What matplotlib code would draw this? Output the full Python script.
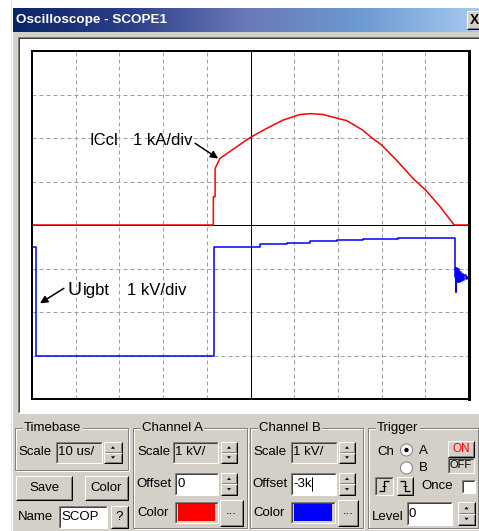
import numpy as np
import matplotlib.pyplot as plt
from matplotlib.patches import Rectangle, Circle, Polygon
from matplotlib.colors import LinearSegmentedColormap

W, H = 479, 531
DPI = 100
PX = 72 / DPI          # one screen pixel in points
GRAY = '#d4d0c8'
DARK = '#808080'
FONT = ['Liberation Sans', 'DejaVu Sans']
UI_SIZE = 9.5

# --- scope settings -------------------------------------------------------
time_per_div = 10.0     # us/div
ch_a_offset = 0.0       # kA (ICcl)
ch_b_offset = -3.0      # kV (Uigbt)

# --- traces ---------------------------------------------------------------
red_t = [0, 41.5, 41.5, 41.9, 41.9, 43.0, 49.9, 53.7, 57.4, 61.3, 63.8, 66.6,
         70.0, 72.0, 75.7, 77.7, 80.0, 83.4, 87.2, 90.1, 93.4, 96.6, 100]
red_ka = [0, 0, 0.65, 0.65, 1.30, 1.53, 2.01, 2.22, 2.41, 2.54, 2.56, 2.54,
          2.45, 2.40, 2.18, 2.01, 1.84, 1.49, 1.07, 0.80, 0.42, 0, 0]

blue_t = [0, 0.95, 41.6, 52.2, 58.3, 63.6, 69.7, 75.8, 83.8, 96.8, 96.95,
          97.1, 97.3, 97.5, 97.7, 97.9, 98.1, 98.3, 98.6, 98.9, 99.2, 99.5,
          99.8, 100]
blue_kv = [2.50, 0.0, 2.50, 2.56, 2.59, 2.63, 2.65, 2.67, 2.69, 1.80, 1.47,
           2.02, 1.68, 1.98, 1.70, 1.92, 1.72, 1.88, 1.74, 1.84, 1.76, 1.81,
           1.78, 1.78]

fig = plt.figure(figsize=(W / DPI, H / DPI), dpi=DPI)
ui = fig.add_axes([0, 0, 1, 1])
ui.set_xlim(0, W)
ui.set_ylim(H, 0)
ui.axis('off')


def line(xs, ys, c, lw=1):
    ui.plot(xs, ys, color=c, lw=lw * PX, solid_capstyle='butt')


def raised(x0, y0, x1, y1, face=GRAY):
    ui.add_patch(Rectangle((x0, y0), x1 - x0, y1 - y0, fc=face, ec='none'))
    line([x0, x0, x1], [y1, y0, y0], 'white')
    line([x0, x1, x1], [y1, y1, y0], 'black')
    line([x0 + 1, x1 - 1, x1 - 1], [y1 - 1, y1 - 1, y0 + 1], DARK)


def sunken(x0, y0, x1, y1, face='white'):
    ui.add_patch(Rectangle((x0, y0), x1 - x0, y1 - y0, fc=face, ec='none'))
    line([x0, x0, x1], [y1, y0, y0], DARK)
    line([x0 + 1, x0 + 1, x1 - 1], [y1 - 1, y0 + 1, y0 + 1], '#404040')
    line([x0, x1, x1], [y1, y1, y0], 'white')


def spin(x0, y0, x1, y1):
    ym = (y0 + y1) / 2
    raised(x0, y0, x1, ym)
    raised(x0, ym, x1, y1)
    cx = (x0 + x1) / 2
    a = (y0 + ym) / 2
    b = (ym + y1) / 2
    ui.add_patch(Polygon([[cx - 2, a + 1.5], [cx + 2, a + 1.5], [cx, a - 1]], fc='black', ec='none'))
    ui.add_patch(Polygon([[cx - 2, b - 1.5], [cx + 2, b - 1.5], [cx, b + 1]], fc='black', ec='none'))


def group(x0, y0, x1, y1, label):
    ui.add_patch(Rectangle((x0 + 1, y0 + 1), x1 - x0, y1 - y0, fc='none', ec='white', lw=PX))
    ui.add_patch(Rectangle((x0, y0), x1 - x0, y1 - y0, fc='none', ec=DARK, lw=PX))
    ui.text(x0 + 9, y0, label, fontsize=UI_SIZE, family=FONT, va='center', ha='left',
            bbox=dict(fc=GRAY, ec='none', pad=1))


def label(x, y, s, ha='left', size=UI_SIZE, **kw):
    ui.text(x, y, s, fontsize=size, family=FONT, va='center', ha=ha, **kw)


# window body and title bar
ui.add_patch(Rectangle((13, 8), W - 13, H - 8, fc=GRAY, ec='none'))
line([11, 11], [0, H], '#e0e0e0')
grad = LinearSegmentedColormap.from_list('title', ['#0a246a', '#2c3f88', '#6a78b8', '#6c9ad2', '#a6caf0'])
ui.imshow(np.linspace(0, 1, 256)[None, :], cmap=grad, aspect='auto',
          extent=(13, W, 32, 8), zorder=1)
ui.text(16, 20.5, 'Oscilloscope - SCOPE1', color='white', fontsize=9.7,
        family=FONT, weight='bold', va='center', zorder=3)
raised(467, 11, 484, 29)
ui.text(470, 20.5, 'X', fontsize=10, family=FONT, weight='bold', va='center', zorder=3)

# white scope panel
sunken(18, 37, 484, 413, face='white')

# timebase
group(15, 428, 128, 470, 'Timebase')
label(18, 452, 'Scale')
sunken(56, 442, 102, 463, face=GRAY)
label(58, 452, '10 us/')
spin(104, 442, 122, 463)
raised(16, 476, 72, 500)
label(44, 488, 'Save', ha='center')
raised(85, 476, 128, 500)
label(106.5, 488, 'Color', ha='center')
label(18, 517, 'Name')
sunken(59, 506, 107, 528)
label(61, 517, 'SCOP')
raised(111, 506, 128, 528)
label(119.5, 517, '?', ha='center')

# channel A
group(133, 428, 247, 528, 'Channel A')
label(137, 452, 'Scale')
sunken(173, 442, 218, 463, face=GRAY)
label(175, 452, '1 kV/')
spin(221, 442, 237, 463)
label(136, 484, 'Offset')
sunken(175, 473, 218, 495)
label(178, 484, '0')
spin(221, 473, 237, 495)
label(137, 513, 'Color')
sunken(175, 502, 218, 523, face=GRAY)
ui.add_patch(Rectangle((178, 504), 37, 17, fc='#ff0000', ec='none'))
raised(220, 500, 243, 526)
label(231.5, 511, '...', ha='center')

# channel B
group(250, 428, 363, 528, 'Channel B')
label(253, 452, 'Scale')
sunken(291, 442, 337, 463, face=GRAY)
label(293, 452, '1 kV/')
spin(339, 442, 355, 463)
label(252, 484, 'Offset')
sunken(291, 473, 336, 495)
label(293, 484, '-3k')
line([312, 312], [477, 491], 'black')
spin(339, 473, 355, 495)
label(253, 513, 'Color')
sunken(291, 502, 335, 523, face=GRAY)
ui.add_patch(Rectangle((294, 504), 38, 17, fc='#0000ff', ec='none'))
raised(338, 500, 358, 526)
label(348, 511, '...', ha='center')

# trigger
group(368, 428, 478, 528, 'Trigger')
label(377, 452, 'Ch')
for cy, on in [(450, True), (468, False)]:
    ui.add_patch(Circle((406.5, cy), 6, fc='white', ec=DARK, lw=PX))
    if on:
        ui.add_patch(Circle((406.5, cy), 2.2, fc='black', ec='none'))
label(419, 451, 'A')
label(419, 468, 'B')
raised(448, 441, 474, 457)
label(461, 449, 'ON', ha='center', size=8.5, color='#ff0000')
sunken(448, 458, 474, 473, face=GRAY)
label(461, 465.5, 'OFF', ha='center', size=8)
sunken(375, 477, 393, 495, face=GRAY)
line([379, 384, 384, 389], [491, 491, 481, 481], 'black', 1.3)
line([382, 386], [486, 486], 'black', 1)
raised(397, 477, 413, 495)
line([400, 405, 405, 410], [481, 481, 491, 491], 'black', 1.3)
line([403, 407], [486, 486], 'black', 1)
label(421, 486, 'Once')
sunken(462, 480, 475, 493)
label(372, 517, 'Level')
sunken(407, 502, 452, 525)
label(409, 514, '0')
spin(458, 502, 475, 525)

# --- scope screen ---------------------------------------------------------
left, right, top, bottom = 32, 469, 51, 399
ax = fig.add_axes([left / W, 1 - bottom / H, (right - left) / W, (bottom - top) / H])
ax.set_facecolor('white')
ax.set_xlim(0, 10 * time_per_div)
ax.set_ylim(-4, 4)
ax.set_xticks(np.arange(1, 10) * time_per_div)
ax.set_yticks(np.arange(-3, 4))
ax.tick_params(length=0, labelbottom=False, labelleft=False)
ax.grid(True, color='#a0a0a0', lw=PX, linestyle=(0, (4, 3)))
ax.axvline(5 * time_per_div, color='black', lw=PX)
ax.axhline(0, color='black', lw=PX)
for s in ax.spines.values():
    s.set_linewidth(2 * PX)
ax.spines['right'].set_linewidth(3 * PX)

ax.plot(red_t, np.array(red_ka) + ch_a_offset, color='#ff0000', lw=1.1)
ax.plot(blue_t, np.array(blue_kv) + ch_b_offset, color='#0000ff', lw=1.1,
        drawstyle='steps-post')

ax.text(13.27, 1.84, 'ICcl', fontsize=12, family=FONT, va='baseline')
ax.text(23.1, 1.84, '1 kA/div', fontsize=12, family=FONT, va='baseline')
ax.annotate('', xy=(42.6, 1.53), xytext=(37.3, 1.88),
            arrowprops=dict(arrowstyle='-|>', color='black', lw=1.1,
                            mutation_scale=11, shrinkA=0, shrinkB=0))
ax.text(8.2, -1.61, 'U', fontsize=14, family=FONT, va='baseline')
ax.text(11.6, -1.61, 'igbt', fontsize=12, family=FONT, va='baseline')
ax.text(21.7, -1.61, '1 kV/div', fontsize=12, family=FONT, va='baseline')
ax.annotate('', xy=(1.83, -1.80), xytext=(7.3, -1.455),
            arrowprops=dict(arrowstyle='-|>', color='black', lw=1.1,
                            mutation_scale=11, shrinkA=0, shrinkB=0))

fig.savefig('out.png', dpi=DPI)
